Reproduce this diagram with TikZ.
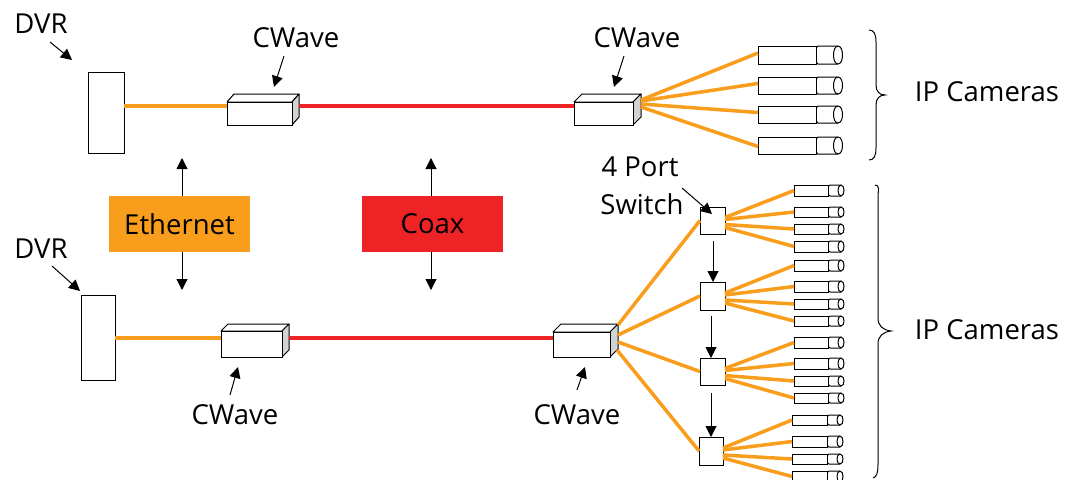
\documentclass[tikz,border=0pt]{standalone}
\usepackage{fontspec}
\setmainfont{Open Sans}
\usetikzlibrary{arrows.meta,calc}
\definecolor{eth}{HTML}{F99D1C}
\definecolor{cox}{HTML}{EE2326}
\definecolor{sidegray}{HTML}{D0D2D3}
\tikzset{
  lbl/.style={font=\fontsize{27.5}{30}\selectfont,inner sep=0pt,text=black},
  plain/.style={draw=black,line width=1pt,fill=white,inner sep=0pt,outer sep=0pt},
  ethline/.style={draw=eth,line width=3.5pt},
  coxline/.style={draw=cox,line width=3.5pt},
  ptr/.style={draw=black,line width=1pt,-{Triangle[length=11pt,width=11pt]}},
  brace/.style={draw=black,line width=1pt},
  band/.style={inner sep=0pt,outer sep=0pt,minimum width=141pt,minimum height=56pt,font=\fontsize{27.5}{30}\selectfont},
}
% name, x1, y1, x2, y2, ellipse x, ellipse rx
\newcommand{\camera}[7]{%
  \draw[line width=1pt,fill=white] (#4+2,#3) -- (#6,#3) .. controls (#6+#7*1.33,#3) and (#6+#7*1.33,#5) .. (#6,#5) -- (#4+2,#5) .. controls (#4-1,#5) and (#4-1,#3) .. (#4+2,#3) -- cycle;
  \draw[line width=1pt] (#6,#3) .. controls (#6-#7*1.33,#3) and (#6-#7*1.33,#5) .. (#6,#5);
  \node[plain,minimum width={(#4-#2)*1pt},minimum height={(#5-#3)*1pt}] (#1) at ({(#2+#4)/2},{(#3+#5)/2}) {};
}
% name, x1, y1, x2, y2, dx, dy
\newcommand{\cwave}[7]{%
  \draw[line width=1pt,line join=round,fill=white] (#2,#3) -- (#2+#6,#3-#7) -- (#4+#6,#3-#7) -- (#4,#3) -- cycle;
  \draw[line width=1pt,line join=round,fill=sidegray] (#4,#3) -- (#4+#6,#3-#7) -- (#4+#6,#5-#7) -- (#4,#5) -- cycle;
  \node[plain,minimum width={(#4-#2)*1pt},minimum height={(#5-#3)*1pt}] (#1) at ({(#2+#4)/2},{(#3+#5)/2}) {};
  \coordinate (#1-back) at (#4+#6,#3-#7);
}
\newcommand{\portbox}[5]{%
  \node[plain,minimum width={(#4-#2)*1pt},minimum height={(#5-#3)*1pt}] (#1) at ({(#2+#4)/2},{(#3+#5)/2}) {};
}
\begin{document}
\begin{tikzpicture}[x=1pt,y=-1pt]
\useasboundingbox (0,0) rectangle (1073,479);
% trunk lines
\coordinate (ty) at (0,106); \coordinate (by) at (0,338);
% DVRs
\portbox{dvrA}{88}{72}{124}{153}
\portbox{dvrB}{81}{295}{115}{380}
% CWave boxes
\cwave{cwA}{227}{102}{292}{125}{7}{8}
\cwave{cwB}{574}{102}{633}{125}{8}{8}
\cwave{cwC}{221}{331}{282}{357}{7}{7}
\cwave{cwD}{553}{332}{610}{357}{8}{8}
% top cameras
\camera{a1}{758}{46}{816}{64}{838}{4.5}
\camera{a2}{758}{77}{816}{94}{838}{4.5}
\camera{a3}{758}{106}{816}{123}{838}{4.5}
\camera{a4}{758}{137}{816}{154}{838}{4.5}
% switches
\portbox{s1}{700}{207}{725}{234}
\portbox{s2}{700}{282}{725}{310}
\portbox{s3}{700}{358}{725}{385}
\portbox{s4}{699}{437}{723}{465}
% bottom cameras
\foreach \n/\ya/\yb in {11/185/196,12/207/217,13/224/234,14/241/252,21/260/271,22/281/292,23/299/309,24/316/326,31/337/348,32/358/369,33/376/386,34/393/403}
  {\camera{c\n}{794}{\ya}{828}{\yb}{841}{3}}
\foreach \n/\ya/\yb in {41/415/425,42/436/447,43/454/464,44/471/482}
  {\camera{c\n}{792}{\ya}{827}{\yb}{840}{3}}
\draw[ethline] (dvrA.east |- ty) -- (cwA.west |- ty);
\draw[ethline] (dvrB.east |- by) -- (cwC.west |- by);
\draw[coxline] (cwA-back |- ty) -- (cwB.west |- ty);
\draw[coxline] (cwC-back |- by) -- (cwD.west |- by);
% top fan
\draw[ethline] ($(cwB-back)+(0,6)$) -- ($(a1.west)+(0,-2)$);
\draw[ethline] ($(cwB-back)+(0,7)$) -- ($(a2.west)+(0,-2)$);
\draw[ethline] ($(cwB-back)+(0,10)$) -- ($(a3.west)+(0,-2)$);
\draw[ethline] ($(cwB-back)+(0,13)$) -- ($(a4.west)+(0,1)$);
% bottom fan
\draw[ethline] ($(cwD-back)+(0,1)$) -- (s1.west);
\draw[ethline] ($(cwD-back)+(0,11)$) -- (s2.west);
\draw[ethline] ($(cwD-back)+(0,18)$) -- (s3.west);
\draw[ethline] ($(cwD-back)+(-1,26)$) -- (s4.west);
% switch fans
\foreach \s in {1,2,3,4}{
  \draw[ethline] ($(s\s.east)+(0,-3)$) -- (c\s1.west);
  \draw[ethline] ($(s\s.east)+(0,-1)$) -- (c\s2.west);
  \draw[ethline] ($(s\s.east)+(0,4)$) -- (c\s3.west);
  \draw[ethline] ($(s\s.east)+(0,7)$) -- (c\s4.west);
}
% bands
\node[band,fill=eth] (eth) at (179.5,224) {Ethernet};
\node[band,fill=cox] (cox) at (432.5,224) {Coax};
% band arrows
\coordinate (e1) at (182,158); \coordinate (e2) at (182,290);
\coordinate (c1) at (431,158); \coordinate (c2) at (431,290);
\draw[ptr] (eth.north -| e1) -- (e1);
\draw[ptr] (eth.south -| e2) -- (e2);
\draw[ptr] (cox.north -| c1) -- (c1);
\draw[ptr] (cox.south -| c2) -- (c2);
% labels
\node[lbl] (l1) at (41,24) {DVR};
\node[lbl] (l2) at (41,249) {DVR};
\node[lbl] (l3) at (296,38) {CWave};
\node[lbl] (l4) at (637,38) {CWave};
\node[lbl] (l5) at (235,415) {CWave};
\node[lbl] (l6) at (577,415) {CWave};
\node[lbl] (l7) at (987,92) {IP Cameras};
\node[lbl] (l8) at (987,330) {IP Cameras};
\node[lbl] (l9) at (640,167) {4 Port};
\node[lbl] (l10) at (642,204) {Switch};
% pointers
\coordinate (p1) at (50,42);  \coordinate (q1) at (72,60);
\coordinate (p2) at (52,266); \coordinate (q2) at (80,291);
\coordinate (p3) at (284,56); \coordinate (q3) at (274,87);
\coordinate (p4) at (624,56); \coordinate (q4) at (614,87);
\coordinate (p5) at (230,395); \coordinate (q5) at (238,367);
\coordinate (p6) at (577,390); \coordinate (q6) at (585,367);
\coordinate (p7) at (682,188); \coordinate (q7) at (712,214);
\draw[ptr] (p1) -- (q1);
\draw[ptr] (p2) -- (q2);
\draw[ptr] (p3) -- (q3);
\draw[ptr] (p4) -- (q4);
\draw[ptr] (p5) -- (q5);
\draw[ptr] (p6) -- (q6);
\draw[ptr] (p7) -- (q7);
\coordinate (t1) at (713,241); \coordinate (t2) at (711,316); \coordinate (t3) at (711,393);
\draw[ptr] (t1) -- (s2.north -| t1);
\draw[ptr] (t2) -- (s3.north -| t2);
\draw[ptr] (t3) -- (s4.north -| t3);
% braces
\draw[brace] (869,30) .. controls (874,30) and (876,34) .. (876,42) -- (876,85) .. controls (876,91) and (879,95) .. (885,95) .. controls (879,95) and (876,99) .. (876,105) -- (876,148) .. controls (876,156) and (874,160) .. (869,160);
\draw[brace] (875,185) .. controls (880,185) and (878,190) .. (878,198) -- (878,318) .. controls (878,326) and (883,330) .. (891,331) .. controls (883,332) and (878,336) .. (878,344) -- (878,464) .. controls (878,472) and (877,477) .. (873,478);
\end{tikzpicture}
\end{document}
